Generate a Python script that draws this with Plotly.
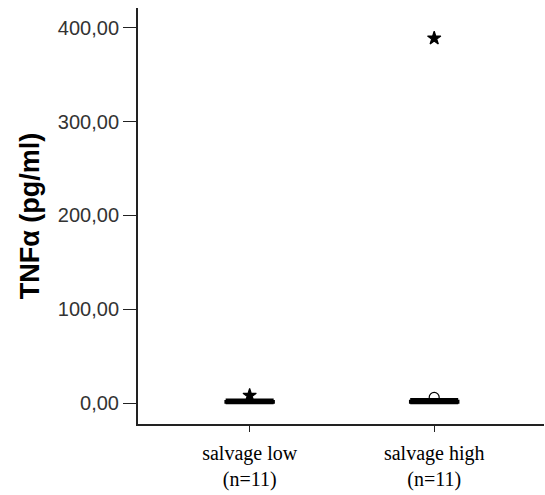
import plotly.graph_objects as go

groups = ["salvage low<br>(n=11)", "salvage high<br>(n=11)"]
xpos = [0, 1]
q1 = [0.4, 0.4]
median = [1.0, 1.2]
q3 = [1.8, 2.2]
lower = [0.0, 0.0]
upper = [3.5, 4.0]
# outliers: (group index, value, type)
out_group = [0, 1, 1]
out_value = [8.0, 6.0, 389.0]
out_kind = ["extreme", "outlier", "extreme"]

fig = go.Figure()
for i in range(len(groups)):
    fig.add_trace(go.Box(
        x=[xpos[i]], q1=[q1[i]], median=[median[i]], q3=[q3[i]],
        lowerfence=[lower[i]], upperfence=[upper[i]],
        width=0.26, boxpoints=False, fillcolor="white",
        line=dict(color="black", width=2.5), whiskerwidth=1,
        showlegend=False, hoverinfo="skip"))

sym = {"extreme": "star", "outlier": "circle-open"}
fig.add_trace(go.Scatter(
    x=[xpos[g] for g in out_group], y=out_value, mode="markers",
    marker=dict(symbol=[sym[k] for k in out_kind], color="black", size=10,
                line=dict(color="black", width=1.2)),
    showlegend=False, hoverinfo="skip"))

fig.update_layout(
    width=545, height=495, plot_bgcolor="white", paper_bgcolor="white",
    margin=dict(l=138, r=1, t=8, b=71), separators=",.",
    xaxis=dict(range=[-0.605, 1.595], tickvals=xpos, ticktext=groups,
               showgrid=False, zeroline=False, showline=True,
               linecolor="#222222", linewidth=2, ticks="outside",
               ticklen=6, tickcolor="#222222", ticklabelstandoff=4,
               tickfont=dict(family="Liberation Serif", size=20, color="black")),
    yaxis=dict(range=[-22.4, 421.3], tickvals=[0, 100, 200, 300, 400],
               tickformat=".2f", showgrid=False, zeroline=False,
               showline=True, linecolor="#222222", linewidth=2,
               ticks="outside", ticklen=13, tickcolor="#222222",
               tickfont=dict(family="Liberation Sans", size=20, color="#333333"),
               title=dict(text="<b>TNFα (pg/ml)</b>", standoff=10,
                          font=dict(family="Liberation Sans", size=27, color="black"))),
)
fig.write_html("out.html")
